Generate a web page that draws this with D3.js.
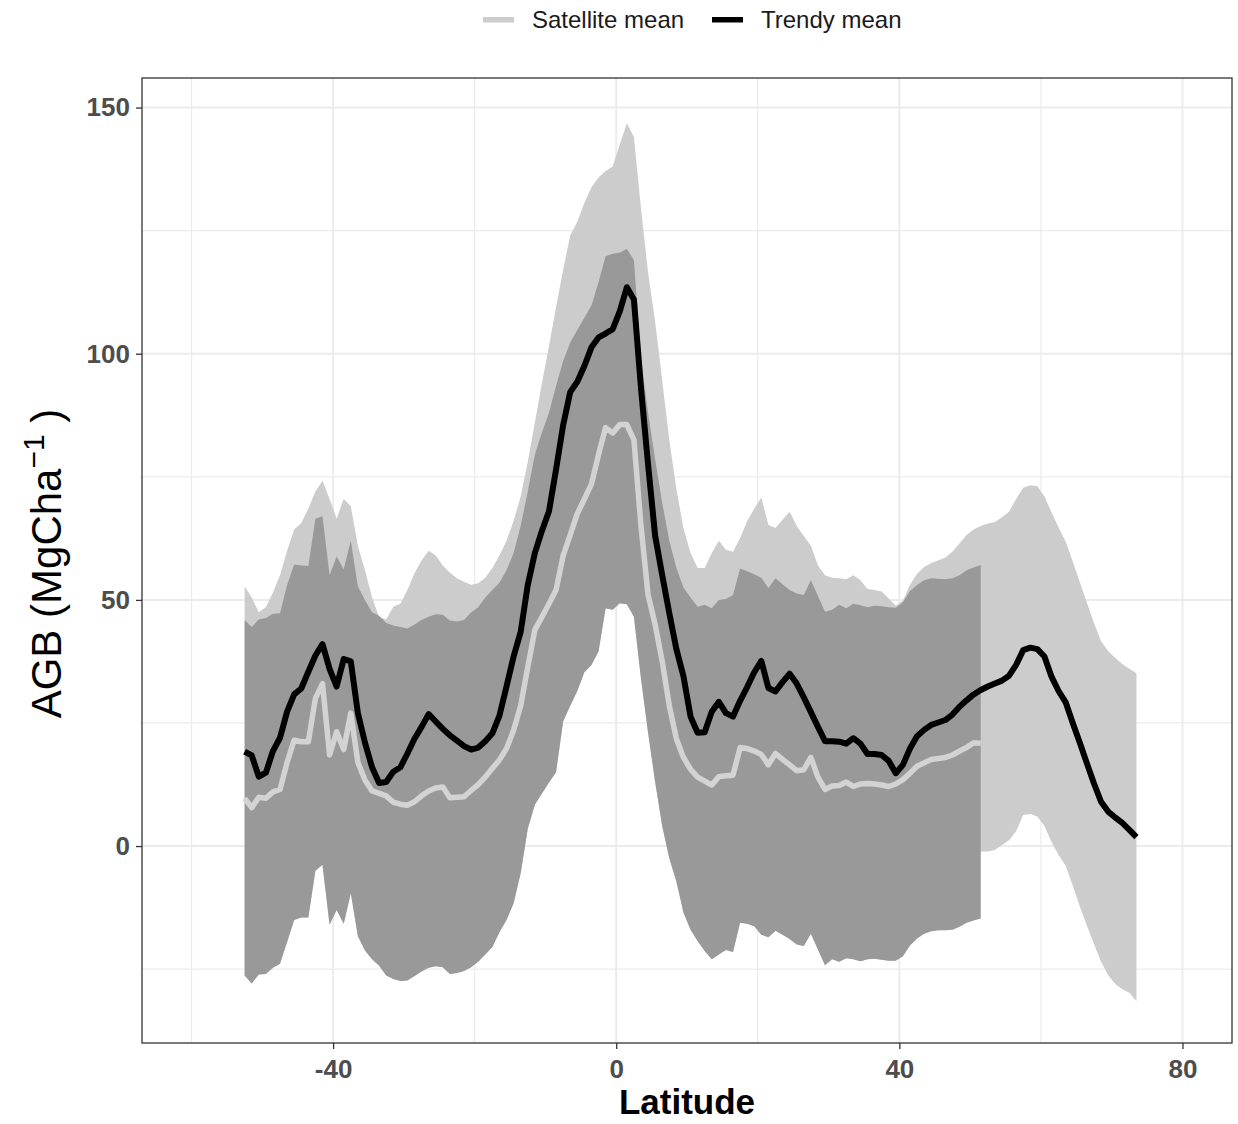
<!DOCTYPE html>
<html>
<head>
<meta charset="utf-8">
<script src="https://cdn.jsdelivr.net/npm/d3@7/dist/d3.min.js"></script>
<style>
    body { margin: 0; background: #fff; }
    text { font-family: "Liberation Sans", Arial, sans-serif; }
</style>
</head>
<body>
<script>

//latitude of every sample (1 degree bins)
var lat = [-52.5, -51.5, -50.5, -49.5, -48.5, -47.5, -46.5, -45.5, -44.5, -43.5,
    -42.5, -41.5, -40.5, -39.5, -38.5, -37.5, -36.5, -35.5, -34.5, -33.5,
    -32.5, -31.5, -30.5, -29.5, -28.5, -27.5, -26.5, -25.5, -24.5, -23.5,
    -22.5, -21.5, -20.5, -19.5, -18.5, -17.5, -16.5, -15.5, -14.5, -13.5,
    -12.5, -11.5, -10.5, -9.5, -8.5, -7.5, -6.5, -5.5, -4.5, -3.5,
    -2.5, -1.5, -0.5, 0.5, 1.5, 2.5, 3.5, 4.5, 5.5, 6.5,
    7.5, 8.5, 9.5, 10.5, 11.5, 12.5, 13.5, 14.5, 15.5, 16.5,
    17.5, 18.5, 19.5, 20.5, 21.5, 22.5, 23.5, 24.5, 25.5, 26.5,
    27.5, 28.5, 29.5, 30.5, 31.5, 32.5, 33.5, 34.5, 35.5, 36.5,
    37.5, 38.5, 39.5, 40.5, 41.5, 42.5, 43.5, 44.5, 45.5, 46.5,
    47.5, 48.5, 49.5, 50.5, 51.5, 52.5, 53.5, 54.5, 55.5, 56.5,
    57.5, 58.5, 59.5, 60.5, 61.5, 62.5, 63.5, 64.5, 65.5, 66.5,
    67.5, 68.5, 69.5, 70.5, 71.5, 72.5, 73.5];

//satellite spread, upper edge (all latitudes)
var satHi = [52.7, 50.5, 47.5, 48.5, 51.5, 55, 60, 64.3, 65.6, 68.5,
    72, 74.2, 70.5, 66.5, 70.5, 69, 61, 56, 50.5, 46.5,
    46, 48.6, 49.2, 52, 55.4, 58, 60, 59, 57, 55.5,
    54.4, 53.7, 53.1, 53.4, 54.5, 56.5, 59, 62, 66, 71,
    78, 86, 94, 101.5, 109.5, 117, 124, 126.8, 130.6, 133.8,
    135.8, 137.1, 138, 142.5, 146.8, 144, 129.5, 116.5, 106.5, 94.5,
    82.5, 72.5, 64.5, 59.5, 56.5, 56.5, 59.5, 62, 60.2, 59.8,
    62.5, 66, 68.5, 70.8, 65.2, 64.6, 66.3, 67.9, 65, 63,
    61, 57, 55, 54.5, 54.4, 54.2, 55, 54, 52.2, 52,
    51.7, 50.3, 48.8, 49.8, 53, 55.3, 56.7, 57.5, 58, 58.6,
    59.8, 61.5, 63.2, 64.3, 65, 65.5, 65.8, 66.8, 67.9, 70.5,
    72.8, 73.3, 73.1, 71, 67.8, 64.7, 61.8, 57.8, 53.6, 49.4,
    45.3, 41.6, 39.6, 38.2, 37, 36, 35.1];

//satellite spread, lower edge (only where it shows: 51.5 .. 73.5)
var satLo = [-1.1, -1.1, -0.8, 0.2, 1.2, 3, 6.3, 6.5, 6, 4.1,
    0.8, -1.8, -4, -8, -12.3, -16.2, -19.9, -23.5, -26.2, -28,
    -29.1, -29.8, -31.5];

//trendy spread (-52.5 .. 51.5)
var trHi = [45.9, 44.5, 46, 46.3, 47.2, 47.3, 53, 57.2, 57, 56.9,
    66.5, 67, 55, 58.8, 56.2, 62, 52.7, 50, 47.5, 46.8,
    45.3, 44.8, 44.5, 44.2, 45, 45.9, 46.6, 47.1, 47, 45.8,
    45.6, 45.9, 47.5, 48.5, 50.5, 52, 53.5, 56, 59.5, 65,
    72, 79.5, 84, 88, 93.5, 98.5, 102.3, 104.8, 107.3, 109.8,
    114.5, 119.8, 120.3, 120.5, 121.3, 119, 99, 88, 78.5, 69.7,
    62, 56.5, 52.5, 50.5, 48.6, 49, 48.3, 50, 50.2, 51,
    56.4, 55.8, 55.2, 54.5, 52.4, 54.4, 53.2, 52, 51.3, 51,
    54, 50.8, 47.6, 48, 49, 48.3, 49.2, 48.9, 48.5, 48.8,
    48.7, 48.5, 48.4, 49.5, 51.8, 53, 54, 54.4, 54.3, 54.2,
    54.4, 55, 56, 56.6, 57.1];

var trLo = [-26.3, -27.9, -26.1, -26, -24.7, -23.9, -19.5, -15, -14.5, -14.5,
    -5, -3.8, -16, -13, -15.8, -9.6, -18.3, -21.2, -23, -24.3,
    -26.3, -27, -27.4, -27.3, -26.4, -25.5, -24.7, -24.4, -24.6, -26,
    -25.8, -25.4, -24.6, -23.5, -22, -20.5, -17.5, -15, -11.6, -5.5,
    3.5, 8.4, 10.7, 12.9, 15, 25.3, 28.5, 31.5, 35.3, 36.8,
    39.5, 48.3, 48, 49.3, 49.1, 46.6, 34, 23, 13, 4,
    -2.5, -7.2, -13.5, -17, -19.3, -21.3, -23, -22, -21.1, -21.5,
    -15.6, -15.8, -16.3, -18, -18.5, -17.2, -18, -18.9, -20, -20.3,
    -17.8, -21, -24.2, -23, -23.5, -22.8, -23, -23.4, -23, -22.9,
    -23.1, -23.3, -23.3, -22.4, -20.2, -18.8, -17.8, -17.3, -17.1, -17.1,
    -17, -16.4, -15.6, -15.1, -14.7];

//satellite mean (-52.5 .. 51.5)
var satMean = [9.7, 7.8, 9.9, 9.7, 11, 11.5, 17, 21.5, 21.2, 21.2,
    30, 33, 18.5, 23.2, 19.6, 27, 17, 13.4, 11.2, 10.7,
    10.2, 8.9, 8.5, 8.3, 9, 10.2, 11.2, 11.8, 12, 9.8,
    9.9, 10, 11.3, 12.5, 14, 15.8, 17.5, 19.8, 23.5, 28.5,
    36.3, 43.9, 46.5, 49.2, 52, 59, 63.2, 67.5, 70.5, 73.5,
    79.5, 85, 83.9, 85.6, 85.6, 82.5, 65, 51, 45, 37.5,
    28.5, 21.8, 18, 15.6, 14, 13.2, 12.4, 14.1, 14.3, 14.4,
    20, 19.8, 19.3, 18.6, 16.5, 18.8, 17.6, 16.5, 15.3, 15.5,
    18, 14, 11.5, 12.2, 12.3, 13, 12.1, 12.6, 12.7, 12.6,
    12.4, 12.1, 12.6, 13.5, 14.8, 16.2, 16.9, 17.6, 17.8, 18,
    18.5, 19.3, 20, 21, 20.9];

//trendy mean (all latitudes)
var trMean = [19.2, 18.4, 14.1, 14.9, 19.3, 22, 27.3, 30.8, 32, 35.4,
    38.7, 41, 36, 32.4, 38, 37.5, 27, 21, 16, 12.8,
    13, 15.1, 16, 18.8, 21.8, 24.2, 26.8, 25.3, 23.8, 22.5,
    21.4, 20.3, 19.6, 20, 21.3, 22.9, 26.5, 32.4, 38.5, 43.5,
    53, 59.5, 64, 68, 76.5, 85.5, 92.2, 94.3, 97.5, 101.3,
    103.3, 104.1, 105, 108.6, 113.5, 111, 93, 77.5, 63, 55,
    47.3, 40, 34.5, 26.3, 23, 23.1, 27.3, 29.3, 27, 26.3,
    29.5, 32.3, 35.3, 37.6, 32.1, 31.4, 33.3, 35, 33, 30.2,
    27.2, 24.2, 21.3, 21.3, 21.2, 20.8, 21.9, 20.8, 18.7, 18.7,
    18.5, 17.3, 14.8, 16.5, 19.8, 22.3, 23.6, 24.6, 25.1, 25.6,
    26.7, 28.3, 29.6, 30.8, 31.7, 32.4, 33, 33.6, 34.6, 36.8,
    39.8, 40.3, 40, 38.5, 34.4, 31.5, 29.2, 25, 21, 16.8,
    12.7, 9, 7, 5.8, 4.7, 3.3, 1.8];

var xTicks = [-40, 0, 40, 80], xMinor = [-60, -20, 20, 60];
var yTicks = [0, 50, 100, 150], yMinor = [-25, 25, 75, 125];
var legendLabels = ['Satellite mean', 'Trendy mean'];

//setup graph size
var margin = {top: 78, bottom: 81, right: 6, left: 142};
var width = 1238 - margin.left - margin.right,
    height = 1124 - margin.top - margin.bottom;

var xScale = d3.scaleLinear().domain([-67, 87]).range([0, width]);
var yScale = d3.scaleLinear().domain([-40, 156]).range([height, 0]);

var lightFill = '#cccccc', darkFill = '#999999', lightLine = '#d3d3d3';

var root = d3.select('body').append('svg')
    .attr('width', 1238)
    .attr('height', 1124);

var svg = root.append('g')
    .attr('transform', 'translate(' + margin.left + ',' + margin.top + ')');

//grid, minor then major
svg.selectAll('.vminor').data(xMinor).enter().append('line')
    .attr('x1', xScale).attr('x2', xScale).attr('y1', 0).attr('y2', height)
    .style('stroke', '#ebebeb').style('stroke-width', 1.2);
svg.selectAll('.hminor').data(yMinor).enter().append('line')
    .attr('y1', yScale).attr('y2', yScale).attr('x1', 0).attr('x2', width)
    .style('stroke', '#ebebeb').style('stroke-width', 1.2);
svg.selectAll('.vmajor').data(xTicks).enter().append('line')
    .attr('x1', xScale).attr('x2', xScale).attr('y1', 0).attr('y2', height)
    .style('stroke', '#ebebeb').style('stroke-width', 2);
svg.selectAll('.hmajor').data(yTicks).enter().append('line')
    .attr('y1', yScale).attr('y2', yScale).attr('x1', 0).attr('x2', width)
    .style('stroke', '#ebebeb').style('stroke-width', 2);

//build rows for the bands; below the trendy band the satellite lower edge is hidden,
//so the trendy lower edge closes the polygon there
var nTr = trHi.length;
var satRows = lat.map(function(l, i) {
    return {lat: l, hi: satHi[i], lo: i < nTr - 1 ? trLo[i] : satLo[i - (nTr - 1)]};
});
var trRows = trHi.map(function(h, i) {
    return {lat: lat[i], hi: h, lo: trLo[i]};
});

var band = d3.area()
    .x(function(d) {return xScale(d.lat)})
    .y0(function(d) {return yScale(d.lo)})
    .y1(function(d) {return yScale(d.hi)});

svg.append('path').datum(satRows).attr('d', band).style('fill', lightFill);
svg.append('path').datum(trRows).attr('d', band).style('fill', darkFill);

var line = d3.line()
    .x(function(d) {return xScale(d.lat)})
    .y(function(d) {return yScale(d.v)});

svg.append('path')
    .datum(satMean.map(function(v, i) {return {lat: lat[i], v: v}}))
    .attr('d', line)
    .style('fill', 'none').style('stroke', lightLine).style('stroke-width', 5.5)
    .style('stroke-linejoin', 'round');

svg.append('path')
    .datum(trMean.map(function(v, i) {return {lat: lat[i], v: v}}))
    .attr('d', line)
    .style('fill', 'none').style('stroke', '#000').style('stroke-width', 6)
    .style('stroke-linejoin', 'round');

//panel border
svg.append('rect')
    .attr('width', width).attr('height', height)
    .style('fill', 'none').style('stroke', '#333333').style('stroke-width', 1.3);

//axes
var xAxis = d3.axisBottom(xScale).tickValues(xTicks).tickSize(6).tickPadding(11)
    .tickFormat(function(d) {return String(d)});
var yAxis = d3.axisLeft(yScale).tickValues(yTicks).tickSize(6).tickPadding(6)
    .tickFormat(function(d) {return String(d)});

function styleAxis(g) {
    g.select('.domain').remove();
    g.selectAll('line').style('stroke', '#333333').style('stroke-width', 1.3);
    g.selectAll('text')
        .style('font-family', '"Liberation Sans", Arial, sans-serif')
        .style('font-size', '26px').style('font-weight', 'bold')
        .style('fill', '#4d4d4d');
}

svg.append('g')
    .attr('transform', 'translate(0,' + height + ')')
    .call(xAxis).call(styleAxis);

svg.append('g').call(yAxis).call(styleAxis);

//axis titles
root.append('text')
    .attr('x', margin.left + width / 2).attr('y', 1114)
    .style('text-anchor', 'middle').style('font-size', '35px').style('font-weight', 'bold')
    .style('fill', '#000')
    .text('Latitude');

var yTitle = root.append('text')
    .attr('transform', 'translate(61,' + (margin.top + height / 2 + 3) + ') rotate(-90)')
    .style('text-anchor', 'middle').style('font-size', '42px').style('fill', '#000');
yTitle.append('tspan').text('AGB (MgCha');
yTitle.append('tspan').attr('dy', -17).style('font-size', '30px').text('\u22121');
yTitle.append('tspan').attr('dy', 17).text(' )');

//legend on top
var legendKeys = [{x: 483, color: lightFill}, {x: 712, color: '#000'}];
var legend = root.selectAll('.legend').data(legendLabels).enter().append('g');
legend.append('rect')
    .attr('x', function(d, i) {return legendKeys[i].x})
    .attr('y', 17).attr('width', 31).attr('height', 5.5)
    .style('fill', function(d, i) {return legendKeys[i].color});
legend.append('text')
    .attr('x', function(d, i) {return legendKeys[i].x + 49})
    .attr('y', 28)
    .style('font-size', '24px').style('fill', '#1a1a1a')
    .text(function(d) {return d});

</script>
</body>
</html>
